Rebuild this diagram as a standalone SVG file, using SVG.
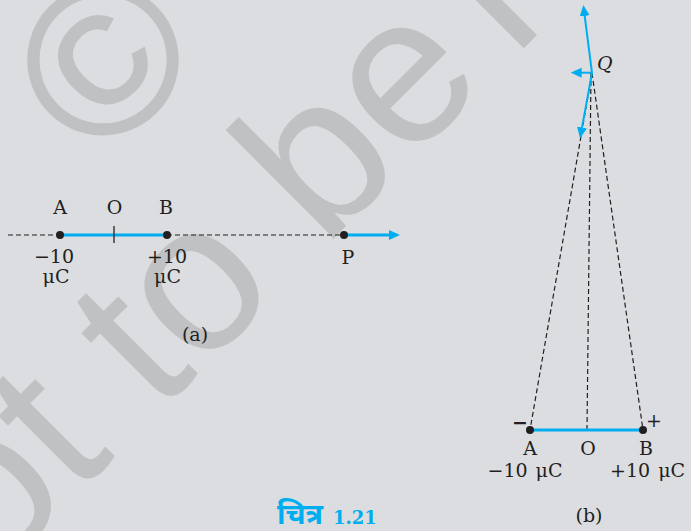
<svg xmlns="http://www.w3.org/2000/svg" width="691" height="531" viewBox="0 0 691 531">
<style>
.bg{fill:#dcdde0}
.wm{fill:#c0c1c3;font-family:"Liberation Sans",Arial,sans-serif;font-size:211px}
.lbl{font-family:"DejaVu Serif","Liberation Serif",serif;font-size:19px;fill:#231f20}
.mid{text-anchor:middle}
.dash{stroke:#231f20;stroke-width:1.2;stroke-dasharray:5 3;fill:none}
.tick{stroke:#231f20;stroke-width:1.3}
.blue{stroke:#00aeef;fill:none}
.thick{stroke-width:3}
.thin{stroke-width:2}
.dot{fill:#231f20}
.cap{fill:#00aeef;font-weight:bold;font-size:18px;font-family:"DejaVu Serif","Noto Sans",serif}
</style>
<defs>
<marker id="ah" viewBox="0 0 11 10" refX="5.5" refY="5" markerWidth="11" markerHeight="10" markerUnits="userSpaceOnUse" orient="auto"><path d="M0,0 L11,5 L0,10 z" fill="#00aeef"/></marker>
</defs>
<rect class="bg" width="691" height="531"/>
<g id="watermark">
<text class="wm" transform="translate(101,58) rotate(-45)" x="0" y="75.5" text-anchor="middle" stroke="#c0c1c3" stroke-width="2.5">©</text>
<text class="wm" transform="translate(-7.9,580.1) rotate(-45)">ot to be <tspan dx="-25">r</tspan></text>
</g>
<g id="connectors">
<line class="dash" x1="8" y1="235" x2="60" y2="235"/>
<line class="blue thick" x1="60" y1="235" x2="167" y2="235"/>
<line class="dash" x1="167" y1="235" x2="344" y2="235"/>
<line class="blue thick" x1="344" y1="235" x2="394.5" y2="235" marker-end="url(#ah)"/>
<line class="dash" x1="592" y1="73" x2="530" y2="430"/>
<line class="dash" x1="591" y1="73" x2="587" y2="430"/>
<line class="dash" x1="592" y1="73" x2="643" y2="430"/>
<line class="blue thick" x1="530" y1="430" x2="643" y2="430"/>
<line class="blue thin" x1="592" y1="73" x2="584" y2="10.5" marker-end="url(#ah)"/>
<line class="blue thin" x1="592" y1="72.7" x2="576.2" y2="72.7" marker-end="url(#ah)"/>
<line class="blue thin" x1="592" y1="73" x2="581" y2="132.9" marker-end="url(#ah)"/>
</g>
<g id="node-a-A">
<circle class="dot" cx="60" cy="235" r="4"/>
<text class="lbl mid" x="60" y="214">A</text>
<text class="lbl mid" x="54" y="263">−10<tspan x="56" y="283">μC</tspan></text>
</g>
<g id="node-a-O">
<line class="tick" x1="114" y1="226" x2="114" y2="243"/>
<text class="lbl mid" x="114.5" y="214">O</text>
</g>
<g id="node-a-B">
<circle class="dot" cx="167" cy="235" r="4"/>
<text class="lbl mid" x="166" y="214">B</text>
<text class="lbl mid" x="167" y="263">+10<tspan x="167.5" y="283">μC</tspan></text>
</g>
<g id="node-a-P">
<circle class="dot" cx="344" cy="235" r="4"/>
<text class="lbl mid" x="348" y="264">P</text>
</g>
<text class="lbl mid" x="195" y="341">(a)</text>
<g id="node-b-Q">
<text class="lbl" x="597" y="70" font-style="italic" font-size="20">Q</text>
</g>
<g id="node-b-A">
<circle class="dot" cx="530" cy="430" r="4"/>
<text class="lbl mid" x="520" y="429" font-weight="bold">−</text>
<text class="lbl mid" x="530" y="455">A</text>
<text class="lbl mid" x="525" y="477" word-spacing="2">−10 μC</text>
</g>
<g id="node-b-O">
<text class="lbl mid" x="588" y="455">O</text>
</g>
<g id="node-b-B">
<circle class="dot" cx="643" cy="430" r="4"/>
<text class="lbl mid" x="654" y="427" font-size="17">+</text>
<text class="lbl mid" x="646" y="455">B</text>
<text class="lbl" x="610" y="477" word-spacing="2">+10 μC</text>
</g>
<text class="lbl mid" x="589" y="522">(b)</text>
<text class="cap" x="277" y="524"><tspan font-size="29">चित्र</tspan><tspan x="333">1.21</tspan></text>
</svg>
